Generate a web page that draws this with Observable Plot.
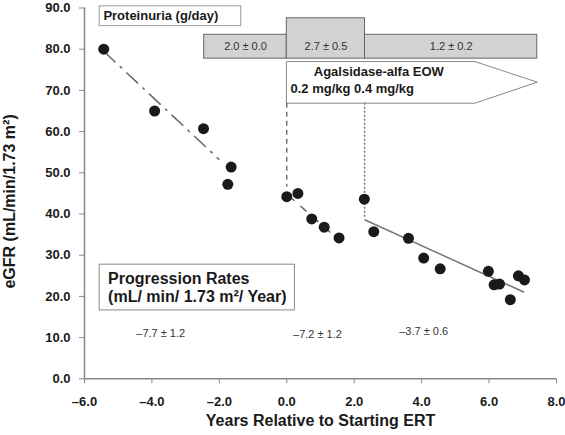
<!DOCTYPE html>
<html><head><meta charset="utf-8">
<script src="https://cdn.jsdelivr.net/npm/d3@7"></script>
<script src="https://cdn.jsdelivr.net/npm/@observablehq/plot@0.6"></script>
<style>body{margin:0;background:#fff}</style>
</head><body><div id="chart"></div>
<script>
// Measurements: years relative to starting ERT vs eGFR
const years = [-5.43,-3.92,-2.47,-1.65,-1.75,0.0,0.33,0.74,1.11,1.55,2.30,2.58,3.61,4.06,4.55,5.98,6.15,6.31,6.63,6.87,7.05];
const egfr  = [80.0,65.0,60.7,51.4,47.2,44.2,45.0,38.8,36.8,34.2,43.6,35.7,34.1,29.3,26.7,26.1,22.8,23.0,19.2,25.0,24.0];

// Regression segments per period
const fitStartX = [-5.43, 0.05, 2.31];
const fitEndX   = [-2.00, 1.55, 7.04];
const fitStartY = [79.5, 44.5, 38.6];
const fitEndY   = [53.2, 33.7, 21.0];
const rates   = [-7.7, -7.2, -3.7];
const rateSD  = [1.2, 1.2, 0.6];

// Proteinuria periods
const protFrom = [-2.45, 0.0, 2.32];
const protTo   = [0.0, 2.32, 7.43];
const protMean = [2.0, 2.7, 1.2];
const protSD   = [0.0, 0.5, 0.2];

// Treatment events
const ertStart = 0.0;
const doseIncrease = 2.31;
const arrowEnd = 7.43;

const xTicks = [-6,-4,-2,0,2,4,6,8];
const yTicks = [0,10,20,30,40,50,60,70,80,90];

const fmt = d => d.toFixed(1).replace("-", "\u2013");
const pm = (m, s) => `${m.toFixed(1).replace("-", "\u2013")} \u00b1 ${s.toFixed(1)}`;

const points = years.map((x, i) => ({x, y: egfr[i]}));
const fits = fitStartX.map((x1, i) => ({x1, x2: fitEndX[i], y1: fitStartY[i], y2: fitEndY[i], label: pm(rates[i], rateSD[i])}));
const prot = protFrom.map((x1, i) => ({x1, x2: protTo[i], label: pm(protMean[i], protSD[i]), i}));

const arrowTop = 77.0, arrowBottom = 66.9, arrowMid = 72.0, arrowNeck = 5.58;
const arrow = [
  {x: ertStart, y: arrowTop}, {x: arrowNeck, y: arrowTop}, {x: arrowEnd, y: arrowMid},
  {x: arrowNeck, y: arrowBottom}, {x: ertStart, y: arrowBottom}
];

const rateLabelPos = [{x: -3.74, y: 11.0}, {x: 0.91, y: 10.8}, {x: 4.06, y: 11.6}];

const dark = "#1a1a1a";
const plot = Plot.plot({
  width: 565, height: 435,
  marginLeft: 84, marginRight: 9, marginTop: 7.5, marginBottom: 56.7,
  x: {domain: [-6, 8]},
  y: {domain: [0, 90]},
  style: {fontFamily: "'Liberation Sans', Arial, sans-serif", fontSize: "13px", color: dark, background: "#fff"},
  marks: [
    Plot.axisX(xTicks, {tickSize: 5, tickPadding: 13, tickFormat: fmt, fontWeight: "bold", fontSize: 13, stroke: "#888", fill: dark, label: null}),
    Plot.axisY(yTicks, {tickSize: 5, tickPadding: 9, tickFormat: fmt, fontWeight: "bold", fontSize: 13, stroke: "#888", fill: dark, label: null}),
    Plot.ruleY([0], {stroke: "#888", strokeWidth: 1.5}),
    Plot.ruleX([-6], {stroke: "#888", strokeWidth: 1.5}),
    // axis titles
    Plot.text(["Years Relative to Starting ERT"], {frameAnchor: "bottom", dy: 47, fontWeight: "bold", fontSize: 16, fill: dark}),
    Plot.text(["eGFR (mL/min/1.73 m\u00b2)"], {frameAnchor: "left", textAnchor: "middle", dx: -75, dy: 8, rotate: -90, fontWeight: "bold", fontSize: 16, fill: dark}),
    // proteinuria
    Plot.rect(prot, {x1: "x1", x2: "x2", y1: 77.7, y2: d => d.i === 1 ? 87.5 : 83.5, fill: "#d2d2d2", stroke: "#666", strokeWidth: 1}),
    Plot.text(prot, {x: d => (d.x1 + d.x2) / 2, y: () => 80.6, text: "label", fontSize: 11, fill: "#333"}),
    Plot.rect([0], {x1: () => -5.55, x2: () => -1.35, y1: () => 85.6, y2: () => 90.4, fill: "#fff", stroke: "#999"}),
    Plot.text(["Proteinuria (g/day)"], {x: () => -5.44, y: () => 88.0, textAnchor: "start", fontWeight: "bold", fontSize: 13, fill: dark}),
    // treatment arrow
    Plot.line(arrow, {x: "x", y: "y", curve: "linear-closed", fill: "#fff", stroke: "#888", strokeWidth: 1}),
    Plot.text(["Agalsidase-alfa EOW"], {x: () => 0.80, y: () => 74.6, textAnchor: "start", fontWeight: "bold", fontSize: 13, fill: dark}),
    Plot.text(["0.2 mg/kg 0.4 mg/kg"], {x: () => 0.11, y: () => 70.3, textAnchor: "start", fontWeight: "bold", fontSize: 13, fill: dark}),
    // event lines
    Plot.ruleX([ertStart], {y1: arrowBottom, y2: 46.5, stroke: "#555", strokeDasharray: "5,4", strokeWidth: 1.2}),
    Plot.ruleX([doseIncrease], {y1: arrowBottom, y2: fitStartY[2], stroke: "#777", strokeDasharray: "2,2", strokeWidth: 1.5}),
    // regression lines
    Plot.link([fits[0]], {x1: "x1", y1: "y1", x2: "x2", y2: "y2", stroke: "#666", strokeWidth: 1.5, strokeDasharray: "16,6,3,6"}),
    Plot.link([fits[1]], {x1: "x1", y1: "y1", x2: "x2", y2: "y2", stroke: "#666", strokeWidth: 1.5, strokeDasharray: "8,8"}),
    Plot.link([fits[2]], {x1: "x1", y1: "y1", x2: "x2", y2: "y2", stroke: "#777", strokeWidth: 1.5}),
    // points
    Plot.dot(points, {x: "x", y: "y", r: 5.5, fill: dark, stroke: "none"}),
    // progression rates box
    Plot.rect([0], {x1: () => -5.55, x2: () => 0.24, y1: () => 16.6, y2: () => 27.7, fill: "#fff", stroke: "#888"}),
    Plot.text(["Progression Rates"], {x: () => -5.30, y: () => 24.3, textAnchor: "start", fontWeight: "bold", fontSize: 16, fill: dark}),
    Plot.text(["(mL/ min/ 1.73 m\u00b2/ Year)"], {x: () => -5.30, y: () => 19.8, textAnchor: "start", fontWeight: "bold", fontSize: 16, fill: dark}),
    Plot.text(fits, {x: (d, i) => rateLabelPos[i].x, y: (d, i) => rateLabelPos[i].y, text: "label", fontSize: 11, fill: "#333"})
  ]
});
document.getElementById("chart").appendChild(plot);
</script>
</body></html>
